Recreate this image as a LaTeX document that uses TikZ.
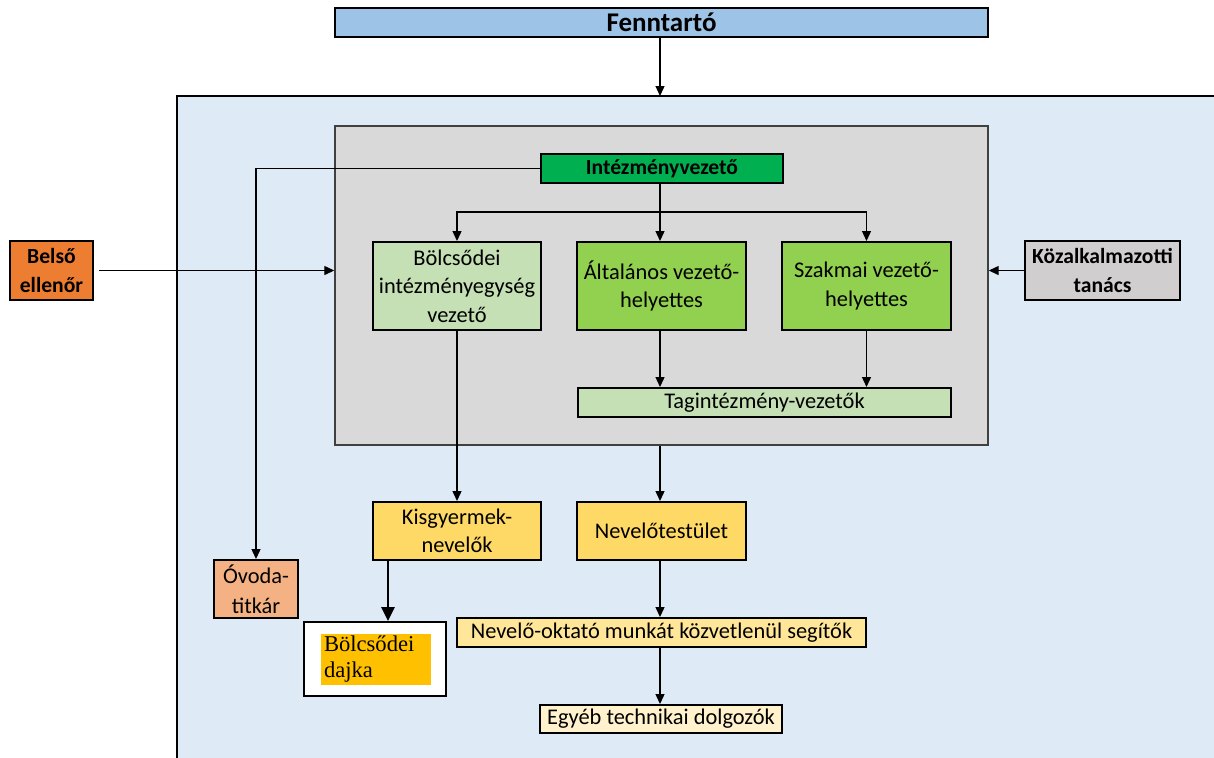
\documentclass[tikz,border=0pt]{standalone}
\usepackage{fontspec}
\setmainfont{Carlito}
\newfontfamily\serifdajka{Liberation Serif}
\usetikzlibrary{arrows.meta,positioning}
\definecolor{fennblue}{RGB}{157,195,230}
\definecolor{outerblue}{RGB}{222,235,247}
\definecolor{graybg}{RGB}{217,217,217}
\definecolor{ivgreen}{RGB}{0,176,80}
\definecolor{ltgreen}{RGB}{197,224,180}
\definecolor{midgreen}{RGB}{146,208,80}
\definecolor{orangeb}{RGB}{237,125,49}
\definecolor{kozgray}{RGB}{208,206,206}
\definecolor{yellowb}{RGB}{255,217,102}
\definecolor{salmon}{RGB}{244,177,131}
\definecolor{dajkaorange}{RGB}{255,192,0}
\definecolor{ltyellow}{RGB}{255,230,153}
\definecolor{paleyellow}{RGB}{255,242,204}
\tikzset{
  box/.style={draw=black, line width=1pt, inner sep=0pt, align=center,
    font=\fontsize{11.2}{14.2}\selectfont},
  boldbox/.style={box, font=\fontsize{10.8}{14.2}\selectfont\bfseries},
  arr/.style={line width=0.65pt, -{Triangle[length=5pt,width=4.5pt]}},
  thickarr/.style={line width=1.4pt, -{Triangle[length=7pt,width=6.5pt]}},
}
\begin{document}
\begin{tikzpicture}[x=0.5pt,y=-0.5pt]
\useasboundingbox (0,0) rectangle (1214,757);
% outer container
\fill[outerblue] (177,96) rectangle (1220,762);
\draw[line width=1.2pt] (177,762) -- (177,96) -- (1220,96);
\coordinate (outtop) at (660,96);
% Fenntartó
\node[box, fill=fennblue, minimum width=326.5pt, minimum height=14.5pt,
  font=\fontsize{13.5}{15}\selectfont\bfseries] (fenn) at (661.5,22.5) {Fenntartó};
\draw[arr] (fenn.south -| outtop) -- (outtop);
% gray management box
\node[draw=black!75, fill=graybg, line width=0.7pt, minimum width=326.5pt,
  minimum height=159.5pt, inner sep=0pt] (gray) at (661.5,285.5) {};
% nodes inside
\node[boldbox, fill=ivgreen, minimum width=121pt, minimum height=14.5pt] (iv) at (662,168.5) {Intézményvezető};
\node[box, fill=ltgreen, minimum width=84pt, minimum height=44pt] (bv) at (457,286) {Bölcsődei\\intézményegység\\vezető};
\node[box, fill=midgreen, minimum width=84.5pt, minimum height=44pt] (av) at (661.5,286) {Általános vezető-\\helyettes};
\node[box, fill=midgreen, minimum width=84.5pt, minimum height=44pt] (sv) at (866.5,286) {Szakmai vezető-\\helyettes};
\node[box, fill=ltgreen, minimum width=186.5pt, minimum height=14.5pt] (tag) at (764.5,402.5) {Tagintézmény-vezetők};
% side nodes
\node[boldbox, fill=orangeb, minimum width=41.5pt, minimum height=29.5pt] (belso) at (51.5,270.5) {Belső\\ellenőr};
\node[boldbox, fill=kozgray, minimum width=77.5pt, minimum height=29.5pt] (koz) at (1102.5,270.5) {Közalkalmazotti\\tanács};
% lower nodes
\node[box, fill=yellowb, minimum width=84pt, minimum height=29pt] (kisgy) at (457,531) {Kisgyermek-\\nevelők};
\node[box, fill=yellowb, minimum width=84.5pt, minimum height=29pt] (nevt) at (661.5,531) {Nevelőtestület};
\node[box, fill=salmon, minimum width=42pt, minimum height=29pt,
  font=\fontsize{11.2}{15}\selectfont] (ovoda) at (256,589) {Óvoda-\\titkár};
\node[box, fill=white, minimum width=71pt, minimum height=37pt] (dajka) at (375,659) {};
\node[fill=dajkaorange, minimum width=55pt, minimum height=25.5pt, inner sep=0pt, inner xsep=1.5pt,
  align=left, text width=52pt, font=\serifdajka\fontsize{11.3}{13}\selectfont] (dajkatxt) at (376,659.5) {Bölcsődei\\dajka};
\node[box, fill=ltyellow, minimum width=204.5pt, minimum height=14.5pt] (nosz) at (661.5,632.5) {Nevelő-oktató munkát közvetlenül segítők};
\node[box, fill=paleyellow, minimum width=121pt, minimum height=14pt] (egyeb) at (661,719) {Egyéb technikai dolgozók};
% connectors
\coordinate (bus) at (660,212);
\draw[arr] (iv.west) -| (ovoda.north);
\draw[arr] (iv.south -| bus) -- (bus |- av.north);
\draw[arr] (bus) -| (bv.north);
\draw[arr] (bus) -| (sv.north);
\draw[arr] (av.south -| bus) -- (bus |- tag.north);
\draw[arr] (sv.south) -- (sv.south |- tag.north);
\draw[arr] ([xshift=2.5pt]belso.east) -- (gray.west |- belso.east);
\draw[arr] (koz.west) -- (gray.east |- koz.west);
\draw[arr] (bv.south) -- (kisgy.north);
\draw[arr] (gray.south -| bus) -- (bus |- nevt.north);
\draw[thickarr] ([xshift=8pt]kisgy.south west) -- ([xshift=8pt]kisgy.south west |- dajka.north);
\draw[arr] (nevt.south -| bus) -- (bus |- nosz.north);
\draw[arr] (nosz.south -| bus) -- (bus |- egyeb.north);
\end{tikzpicture}
\end{document}
